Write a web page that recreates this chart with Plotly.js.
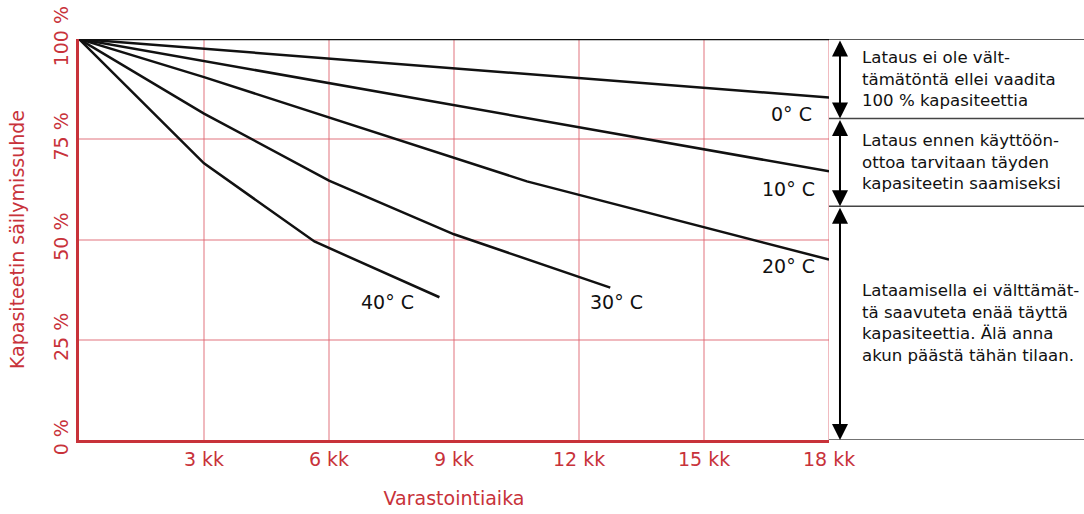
<!DOCTYPE html>
<html>
<head>
<meta charset="utf-8">
<script src="https://cdn.plot.ly/plotly-3.0.1.min.js"></script>
<style>html,body{margin:0;padding:0;background:#fff;}#chart{width:1084px;height:514px;}</style>
</head>
<body>
<div id="chart"></div>
<script>
// ---- data ----
const x0C  = [0, 18];
const y0C  = [100, 85.4];
const x10C = [0, 18];
const y10C = [100, 67];
const x20C = [0, 3, 10.75, 18];
const y20C = [100, 90.5, 64.5, 45];
const x30C = [0, 3, 6, 9, 12.75];
const y30C = [100, 81.4, 64.7, 51.3, 38];
const x40C = [0, 3, 5.65, 8.65];
const y40C = [100, 69, 49.5, 35.6];

const seriesNames = ['0° C', '10° C', '20° C', '30° C', '40° C'];

const xTickVals = [3, 6, 9, 12, 15, 18];
const xTickText = ['3 kk', '6 kk', '9 kk', '12 kk', '15 kk', '18 kk'];
const yTickVals = [0, 25, 50, 75, 100];
const yTickText = ['0 %', '25 %', '50 %', '75 %', '100 %'];

const zoneBounds = [100, 80.2, 58.3, 0];
const zoneTexts = [
  'Lataus ei ole vält-<br>tämätöntä ellei vaadita<br>100 % kapasiteettia',
  'Lataus ennen käyttöön-<br>ottoa tarvitaan täyden<br>kapasiteetin saamiseksi',
  'Lataamisella ei välttämät-<br>tä saavuteta enää täyttä<br>kapasiteettia. Älä anna<br>akun päästä tähän tilaan.'
];

// ---- styling ----
const RED = '#c8323a';
const GRID = 'rgba(222,100,110,0.45)';
const FONT = 'DejaVu Sans, sans-serif';
const X_DOMAIN_END = 0.7463;

const xs = [x0C, x10C, x20C, x30C, x40C];
const ys = [y0C, y10C, y20C, y30C, y40C];
const traces = xs.map((x, i) => ({
  x: x, y: ys[i], name: seriesNames[i], type: 'scatter', mode: 'lines',
  line: {color: '#111', width: 2.5}, hoverinfo: 'skip', showlegend: false
}));

const labelPos = [
  {x: 17.65, y: 81.3, xanchor: 'right'},
  {x: 17.7, y: 62.7, xanchor: 'right'},
  {x: 17.7, y: 43.3, xanchor: 'right'},
  {x: 12.9, y: 34.3, xanchor: 'center'},
  {x: 7.4, y: 34.3, xanchor: 'center'}
];

const annotations = [];
seriesNames.forEach((n, i) => {
  annotations.push({
    text: n, x: labelPos[i].x, y: labelPos[i].y, xref: 'x', yref: 'y',
    xanchor: labelPos[i].xanchor, yanchor: 'middle', showarrow: false,
    font: {family: FONT, size: 19, color: '#111'}
  });
});

const arrowX = 0.7572, textX = 0.7775;
for (let i = 0; i < 3; i++) {
  const top = zoneBounds[i], bot = zoneBounds[i + 1];
  annotations.push({
    x: arrowX, y: bot, xref: 'paper', yref: 'y',
    ax: 0, ay: top, axref: 'pixel', ayref: 'y',
    showarrow: true, arrowhead: 2, arrowside: 'end+start', arrowsize: 1.6,
    arrowwidth: 2, arrowcolor: '#000', text: '', standoff: 0, startstandoff: 0
  });
  annotations.push({
    text: zoneTexts[i], x: textX, y: (top + bot) / 2, xref: 'paper', yref: 'y',
    xanchor: 'left', yanchor: 'middle', align: 'left', showarrow: false,
    font: {family: FONT, size: 16.6, color: '#111'}
  });
}

const shapes = [
  {type: 'line', xref: 'paper', yref: 'y', x0: 0, x1: X_DOMAIN_END, y0: 100, y1: 100, line: {color: '#111', width: 2.5}},
  {type: 'line', xref: 'paper', yref: 'y', x0: X_DOMAIN_END, x1: 1, y0: 100, y1: 100, line: {color: '#222', width: 1.5}},
  {type: 'line', xref: 'paper', yref: 'y', x0: X_DOMAIN_END, x1: 1, y0: zoneBounds[1], y1: zoneBounds[1], line: {color: '#444', width: 1.5}},
  {type: 'line', xref: 'paper', yref: 'y', x0: X_DOMAIN_END, x1: 1, y0: zoneBounds[2], y1: zoneBounds[2], line: {color: '#444', width: 1.5}},
  {type: 'line', xref: 'paper', yref: 'y', x0: X_DOMAIN_END, x1: 1, y0: 0, y1: 0, line: {color: '#444', width: 1.5}},
  {type: 'line', xref: 'x', yref: 'y', x0: 18, x1: 18, y0: 0, y1: 100, line: {color: GRID, width: 2}, layer: 'below'}
];

const layout = {
  width: 1084, height: 514,
  margin: {l: 79, r: 0, t: 39, b: 74},
  paper_bgcolor: '#fff', plot_bgcolor: '#fff',
  font: {family: FONT},
  xaxis: {
    domain: [0, X_DOMAIN_END], range: [0, 18], fixedrange: true,
    tickmode: 'array', tickvals: xTickVals, ticktext: xTickText,
    tickfont: {family: FONT, size: 19, color: RED}, ticks: '',
    showgrid: true, gridcolor: GRID, gridwidth: 2, zeroline: false,
    showline: true, linecolor: RED, linewidth: 3,
    title: {text: 'Varastointiaika', font: {family: FONT, size: 19, color: RED}, standoff: 23}
  },
  yaxis: {
    range: [0, 100], fixedrange: true,
    tickmode: 'array', tickvals: yTickVals, ticktext: yTickText, tickangle: -90,
    tickfont: {family: FONT, size: 19, color: RED}, ticks: '',
    showgrid: true, gridcolor: GRID, gridwidth: 2, zeroline: false,
    showline: true, linecolor: RED, linewidth: 3,
    title: {text: 'Kapasiteetin säilymissuhde', font: {family: FONT, size: 19, color: RED}, standoff: 21}
  },
  showlegend: false,
  shapes: shapes,
  annotations: annotations
};

Plotly.newPlot('chart', traces, layout, {displayModeBar: false, staticPlot: true});
</script>
</body>
</html>
